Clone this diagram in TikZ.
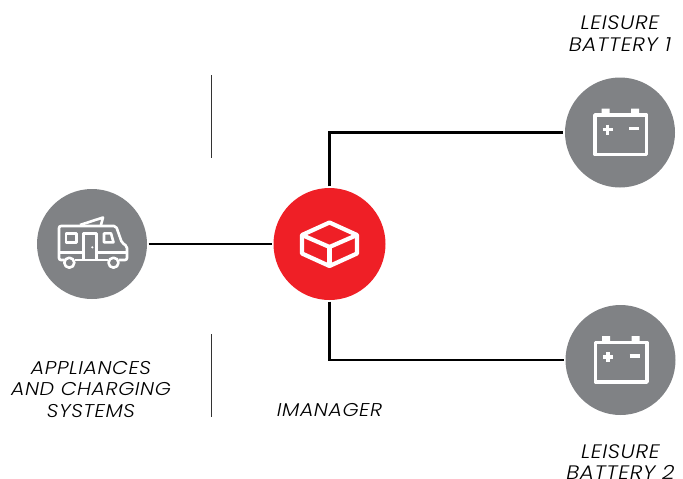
\documentclass[tikz,border=0pt]{standalone}
\usepackage{fontspec}
\setmainfont{Poppins Light}[ItalicFont={Poppins Light Italic},ItalicFeatures={FakeStretch=1.11,LetterSpace=3}]
\usetikzlibrary{arrows}
\definecolor{unitgray}{HTML}{808285}
\definecolor{hubred}{HTML}{EF1F26}
\tikzstyle{device} = [circle, minimum size=110pt, inner sep=0pt, fill=unitgray]
\tikzstyle{hub} = [circle, minimum size=112pt, inner sep=0pt, fill=hubred]
\tikzstyle{tag} = [align=center, font=\fontsize{18.5}{21.5}\selectfont\itshape, text=black, inner sep=0pt]
\tikzstyle{battag} = [tag, font=\fontsize{19.5}{21.5}\selectfont\itshape]
\tikzstyle{wire} = [line width=2.2pt, black, shorten <=1.5pt, shorten >=1.5pt]
\tikzstyle{divider} = [line width=0.7pt, black!80]
\tikzstyle{glyph} = [draw=white, line join=round]
\tikzset{
  vanicon/.pic={
    \begin{scope}[glyph, line width=2.6pt]
      \draw[rounded corners=2pt] (-28,16) -- (-33,16) -- (-33,-18) -- (24,-18) -- (30,-1) -- (35,2) -- (35,16) -- (27,16);
      \draw (-17,16) -- (16,16);
      \draw (-33,8.5) -- (-8.7,8.5) (4.7,8.5) -- (35,8.5);
      \draw (-26,-10.7) rectangle (-15.5,-1.7);
      \draw (-8.7,16) -- (-8.7,-10.7) -- (4.7,-10.7) -- (4.7,16);
      \draw (12,-10.7) -- (19,-10.7) -- (21.5,-1.7) -- (12,-1.7) -- cycle;
      \draw (-12,-19) -- (11,-26.5) -- (8.7,-18);
      \draw (-22.7,18.7) circle (5);
      \draw (21.5,18.7) circle (5);
      \fill[white] (0.3,3.3) circle (1.2);
    \end{scope}
  },
  boxicon/.pic={
    \begin{scope}[glyph, line width=4.2pt]
      \draw (0,-21.5) -- (27.5,-9) -- (27.5,9.5) -- (0,22) -- (-27.5,9.5) -- (-27.5,-9) -- cycle;
      \draw (-27.5,-9) -- (0,3) -- (27.5,-9);
      \draw (0,3) -- (0,22);
    \end{scope}
  },
  batteryicon/.pic={
    \begin{scope}[glyph, line width=3.4pt]
      \draw (-25,-17.5) rectangle (26.5,22);
      \fill[white] (-18.5,-24) rectangle (-10.5,-17) (11,-24) rectangle (19,-17);
      \draw (-17.5,-3) -- (-7.5,-3) (-12.5,-8) -- (-12.5,2);
      \draw (9,-4) -- (19,-4);
    \end{scope}
  }
}

\begin{document}
\begin{tikzpicture}[x=1pt, y=-1pt, node distance=100pt]
    \useasboundingbox (0,0) rectangle (683,479);

    % Nodes
    \node (van) [device] at (92,244) {};
    \node (imanager) [hub, right of=van, xshift=137.5pt] {};
    \node (battery1) [device, right of=imanager, xshift=190.5pt, yshift=111.5pt] {};
    \node (battery2) [device, below of=battery1, yshift=-127.5pt, xshift=0.5pt] {};

    \node (vanlabel) [tag, below of=van, yshift=-45.5pt, xshift=-1pt] {APPLIANCES\\AND CHARGING\\SYSTEMS};
    \node (hublabel) [tag, below of=imanager, yshift=-66pt] {IMANAGER};
    \node (label1) [battag, above of=battery1, yshift=-1pt] {LEISURE\\BATTERY 1};
    \node (label2) [battag, below of=battery2, yshift=-2pt] {LEISURE\\BATTERY 2};

    % Icons
    \pic at (van) {vanicon};
    \pic at (imanager) {boxicon};
    \pic at (battery1) {batteryicon};
    \pic at (battery2) {batteryicon};

    % Dividers
    \coordinate (topa) at (211,75);
    \coordinate (topb) at (211,158);
    \coordinate (lowa) at (211,334);
    \coordinate (lowb) at (211,417);
    \draw [divider] (topa) -- (topb);
    \draw [divider] (lowa) -- (lowb);

    % Arrows
    \draw [wire] (van) -- (imanager);
    \draw [wire] (imanager.north) |- (battery1.west);
    \draw [wire] (imanager.south) |- (battery2.west);

\end{tikzpicture}
\end{document}
